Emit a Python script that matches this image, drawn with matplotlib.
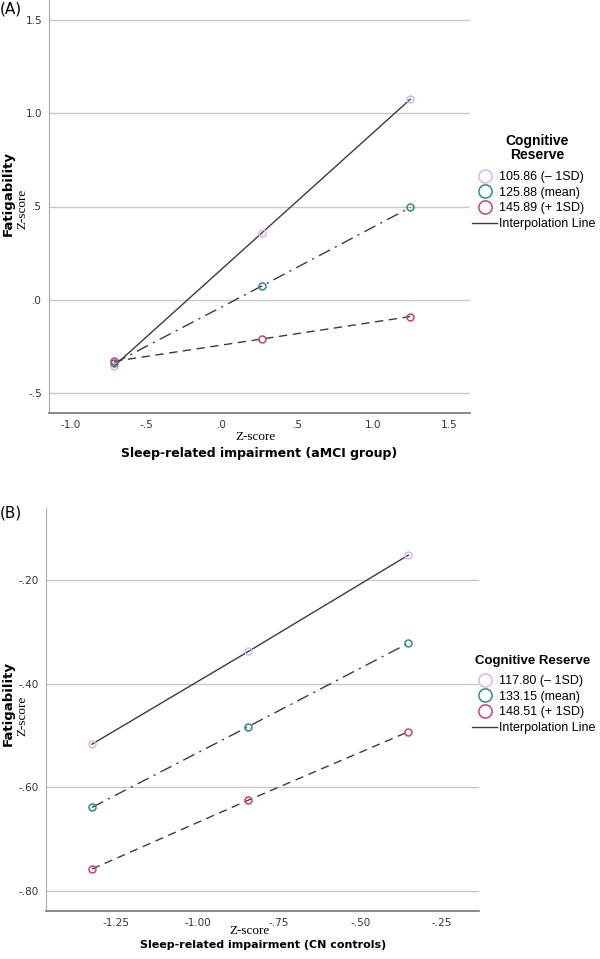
import matplotlib
matplotlib.use("Agg")
import matplotlib.pyplot as plt
from matplotlib.lines import Line2D
from matplotlib.ticker import FuncFormatter

# panel A: aMCI group
xa = [-0.715, 0.265, 1.245]
a_low = [-0.355, 0.36, 1.075]
a_mean = [-0.34, 0.075, 0.495]
a_high = [-0.33, -0.21, -0.09]
a_labels = ["105.86 (\u2013 1SD)", "125.88 (mean)", "145.89 (+ 1SD)"]

# panel B: CN controls
xb = [-1.324, -0.844, -0.353]
b_low = [-0.517, -0.338, -0.152]
b_mean = [-0.639, -0.483, -0.322]
b_high = [-0.758, -0.625, -0.493]
b_labels = ["117.80 (\u2013 1SD)", "133.15 (mean)", "148.51 (+ 1SD)"]

cols = ["#d9b9ec", "#2e8a87", "#c4436f"]
styles = ["-", (0, (9, 4, 1.5, 4)), (0, (6, 4))]
linec = "#3c3c3c"

W, H = 600, 959
fig = plt.figure(figsize=(W / 100, H / 100), dpi=100)


def strip0(fmt):
    def f(v, pos):
        s = fmt.format(v)
        s = s.replace("0.", ".", 1) if s.startswith("0.") else s
        s = s.replace("-0.", "-.", 1)
        return s
    return FuncFormatter(f)


def panel(rect, x, ys, xlim, ylim, xt, yt, fmt):
    ax = fig.add_axes(rect)
    for y, c, ls in zip(ys, cols, styles):
        ax.plot(x, y, ls=ls, color=linec, lw=1.0, zorder=2)
        ax.plot(x, y, "o", mfc="none", mec=c, mew=1.1, ms=5, zorder=3)
    ax.set_xlim(xlim)
    ax.set_ylim(ylim)
    ax.set_xticks(xt)
    ax.set_yticks(yt)
    ax.xaxis.set_major_formatter(strip0(fmt))
    ax.yaxis.set_major_formatter(strip0(fmt))
    ax.tick_params(length=0, labelsize=7.5, labelcolor="#333333", pad=5)
    ax.grid(axis="y", color="#c8c8c8", lw=1.0)
    ax.set_axisbelow(True)
    for s in ["top", "right"]:
        ax.spines[s].set_visible(False)
    ax.spines["left"].set_color("#aaaaaa")
    ax.spines["bottom"].set_color("#777777")
    ax.spines["bottom"].set_linewidth(1.2)
    return ax


def px(x, y):
    return x / W, 1 - y / H


axA = panel([49 / W, 1 - 413 / H, 421 / W, 413 / H], xa, [a_low, a_mean, a_high],
            (-1.146, 1.64), (-0.607, 1.607), [-1.0, -0.5, 0.0, 0.5, 1.0, 1.5],
            [-0.5, 0.0, 0.5, 1.0, 1.5], "{:.1f}")
axB = panel([46 / W, 1 - 911 / H, 433 / W, 403 / H], xb, [b_low, b_mean, b_high],
            (-1.465, -0.136), (-0.839, -0.061), [-1.25, -1.0, -0.75, -0.5, -0.25],
            [-0.8, -0.6, -0.4, -0.2], "{:.2f}")


def handles(labels):
    h = [Line2D([], [], ls="none", marker="o", ms=9.5, mfc="none", mec=c, mew=1.1, label=l)
         for c, l in zip(cols, labels)]
    h.append(Line2D([], [], color=linec, lw=1.0, label="Interpolation Line"))
    return h


for labels, top in [(a_labels, 171), (b_labels, 675)]:
    fig.legend(handles=handles(labels), loc="upper left", bbox_to_anchor=px(472, top),
               frameon=False, prop={"family": "Liberation Sans", "size": 9},
               handlelength=2.0, handletextpad=0.15, labelspacing=0.3,
               borderaxespad=0, borderpad=0)

# legend titles
fig.text(*px(537, 148), "Cognitive\nReserve", family="Liberation Sans", fontweight="bold",
         fontsize=10, ha="center", va="center", linespacing=1.0)
fig.text(*px(475, 661), "Cognitive Reserve", family="Liberation Sans", fontweight="bold",
         fontsize=9.5, ha="left", va="center")

# panel letters and axis titles
fig.text(*px(0, 9), "(A)", fontsize=11, va="center", ha="left")
fig.text(*px(0, 513), "(B)", fontsize=11, va="center", ha="left")

for (xl, yl), (xz, yz), txt, fs in [((259, 453), (255, 437), "Sleep-related impairment (aMCI group)", 9),
                                    ((263, 945), (250, 931), "Sleep-related impairment (CN controls)", 8)]:
    fig.text(*px(xz, yz), "Z-score", family="Liberation Serif", fontsize=9.5,
             ha="center", va="center")
    fig.text(*px(xl, yl), txt, fontweight="bold", fontsize=fs, ha="center", va="center")

for (xf, yf), (xz, yz) in [((8, 194), (22, 209)), ((8, 704), (22, 716))]:
    fig.text(*px(xf, yf), "Fatigability", fontweight="bold", fontsize=9.5, rotation=90,
             ha="center", va="center")
    fig.text(*px(xz, yz), "Z-score", family="Liberation Serif", fontsize=9.5, rotation=90,
             ha="center", va="center")

fig.savefig("out.png", dpi=100)
